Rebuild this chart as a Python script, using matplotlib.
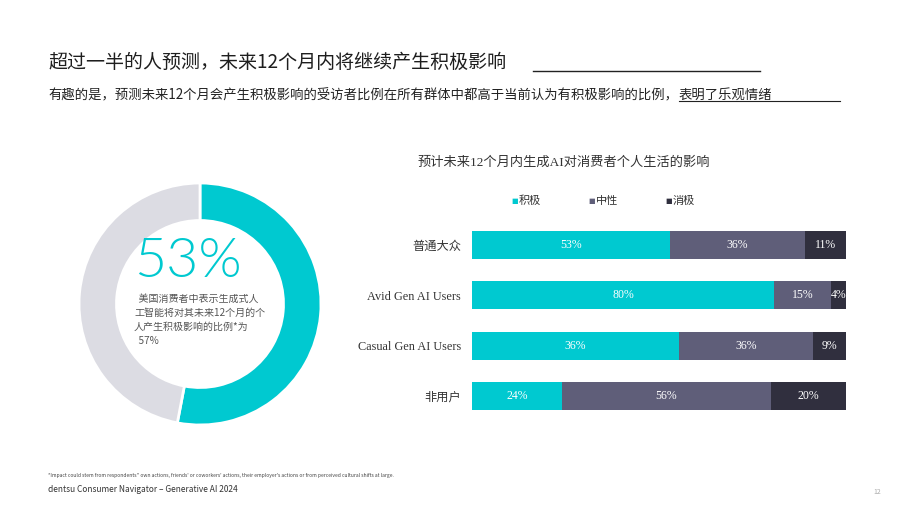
import numpy as np
import matplotlib.pyplot as plt
from matplotlib.lines import Line2D

plt.rcParams['font.family'] = ['Noto Sans CJK SC', 'DejaVu Sans']

# data
donut_values = [53, 47]
big_number = '53%'
caption = '  美国消费者中表示生成式人\n工智能将对其未来12个月的个\n人产生积极影响的比例*为\n  57%'

groups = ['普通大众', 'Avid Gen AI Users', 'Casual Gen AI Users', '非用户']
series = ['积极', '中性', '消极']
positive = [53, 80, 56, 24]
neutral = [36, 15, 36, 56]
negative = [11, 4, 9, 20]
positive_labels = ['53%', '80%', '36%', '24%']
neutral_labels = ['36%', '15%', '36%', '56%']
negative_labels = ['11%', '4%', '9%', '20%']

colors = ['#00C9D0', '#5F5E79', '#302F3E']
ring_grey = '#DCDCE3'

W, H = 920, 518
fig = plt.figure(figsize=(W / 100, H / 100), dpi=100)


def px(x, y):
    return x / W, 1 - y / H


# headings
fig.text(*px(48, 62), '超过一半的人预测，未来12个月内将继续产生积极影响',
         fontsize=13.7, color='#1E1E1E', va='center')
fig.add_artist(Line2D([533 / W, 760 / W], [1 - 71 / H] * 2, color='#222222', lw=1))
fig.text(*px(48, 95), '有趣的是，预测未来12个月会产生积极影响的受访者比例在所有群体中都高于当前认为有积极影响的比例，',
         fontsize=9.6, color='#222222', va='center')
fig.text(*px(679, 95), '表明了乐观情绪', fontsize=9.6, color='#222222', va='center')
fig.add_artist(Line2D([679 / W, 840 / W], [1 - 101 / H] * 2, color='#222222', lw=0.8))

# donut
ax_d = fig.add_axes([75 / W, (H - 304 - 125) / H, 250 / W, 250 / H])
ax_d.pie(donut_values, colors=[colors[0], ring_grey], startangle=90, counterclock=False,
         radius=0.968, wedgeprops=dict(width=0.30, edgecolor='white', linewidth=2))
ax_d.set_xlim(-1, 1)
ax_d.set_ylim(-1, 1)
ax_d.set_aspect('equal')
ax_d.axis('off')

fig.text(*px(134, 262), big_number, fontsize=40, color=colors[0], va='center',
         family=['Lato', 'DejaVu Sans'], fontweight=300)
fig.text(*px(134, 320), caption, fontsize=7.2, color='#555555', va='center', linespacing=1.5)

# stacked bars
ax = fig.add_axes([472 / W, (H - 421) / H, 374 / W, 201 / H])
y = np.arange(len(groups))
data = np.array([positive, neutral, negative], dtype=float)
shares = data / data.sum(axis=0)
labels = [positive_labels, neutral_labels, negative_labels]
left = np.zeros(len(groups))
for i in range(3):
    ax.barh(y, shares[i], left=left, height=0.56, color=colors[i], label=series[i])
    for j in range(len(groups)):
        ax.text(left[j] + shares[i][j] / 2, y[j], labels[i][j], ha='center', va='center',
                color='white', fontsize=8.5, family=['Liberation Serif', 'DejaVu Serif'])
    left += shares[i]

ax.set_xlim(0, 1)
ax.set_ylim(3.5, -0.5)
ax.set_yticks(y)
ax.set_yticklabels(groups, fontsize=8.8, color='#333333',
                   family=['Liberation Serif', 'Noto Sans CJK SC'])
ax.tick_params(axis='y', length=0, pad=8)
ax.set_xticks([])
for s in ax.spines.values():
    s.set_visible(False)

fig.text(*px(418, 163), '预计未来12个月内生成AI对消费者个人生活的影响', fontsize=9.5,
         color='#333333', va='center', family=['Liberation Serif', 'Noto Sans CJK SC'])

# legend
for k, xl in enumerate([511, 588, 665]):
    fig.text(*px(xl, 201), '■', fontsize=5, color=colors[k], va='center', family='DejaVu Sans')
    fig.text(*px(xl + 8, 201), series[k], fontsize=8, color='#333333', va='center')

# footer
fig.text(*px(48, 476), "*Impact could stem from respondents'' own actions, friends' or coworkers' actions, "
         "their employer's actions or from perceived cultural shifts at large.",
         fontsize=3.6, color='#444444', va='center')
fig.text(*px(48, 490), 'dentsu Consumer Navigator – Generative AI 2024', fontsize=6.0,
         color='#333333', va='center')
fig.text(*px(877, 492), '12', fontsize=5, color='#AAAAAA', va='center', ha='center')

fig.savefig('out.png', dpi=100)
